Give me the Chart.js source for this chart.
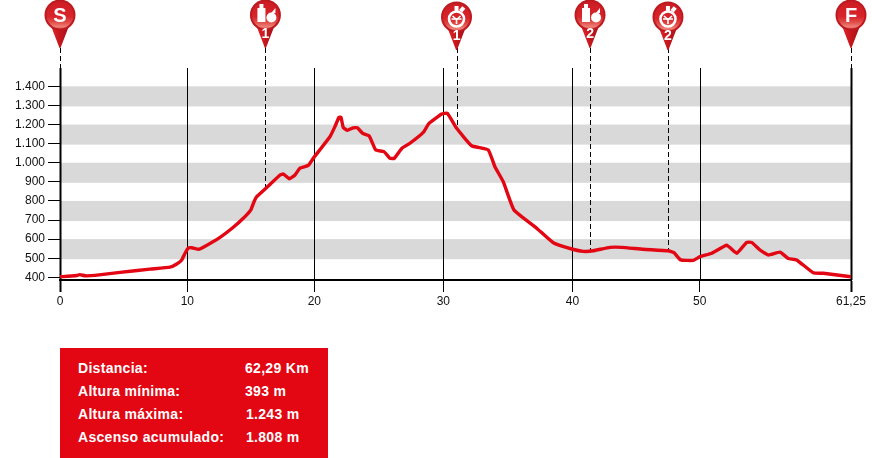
<!DOCTYPE html>
<html>
<head>
<meta charset="utf-8">
<title>Perfil</title>
<script src="https://cdn.jsdelivr.net/npm/chart.js@4/dist/chart.umd.min.js"></script>
<style>
html,body{margin:0;padding:0;background:#fff;width:872px;height:458px;overflow:hidden}
#wrap{position:absolute;left:0;top:0;width:872px;height:458px}
#stats{position:absolute;left:60px;top:348px;width:268px;height:110px;background:#e30613;color:#fff;font:bold 14px "Liberation Sans",Arial,sans-serif;letter-spacing:.3px}
#stats div{position:absolute;white-space:nowrap}
</style>
</head>
<body>
<div id="wrap"><canvas id="chartProfile" width="872" height="458"></canvas></div>
<div id="stats"></div>
<script>
// profile
const distKm=[0,1.17,1.56,1.95,2.73,4.69,7.03,8.59,9.12,9.51,9.77,10.02,10.29,10.86,11.2,12.5,13.54,14.32,14.9,15.16,15.37,16.15,17.19,17.45,17.91,18.36,18.75,19.4,19.84,21.09,21.48,21.8,21.95,22.13,22.45,22.91,23.23,23.65,24.16,24.66,25.31,25.78,26.12,26.7,27.34,28.38,28.83,29.82,30.26,30.99,32.16,33.46,33.98,34.63,35.47,37.24,38.54,40.05,40.88,41.66,42.97,43.88,45.57,47.52,47.97,48.49,49.48,50,50.91,52.09,52.87,53.65,54.04,54.69,55.34,56.25,56.9,57.55,58.85,59.63,61.8]
const altM=[403,408,414,408,410,426,443,453,470,491,526,553,555,547,557,609,662,709,752,796,822,870,936,941,916,936,972,986,1028,1136,1189,1238,1238,1185,1170,1183,1183,1154,1140,1067,1058,1023,1023,1075,1102,1159,1206,1255,1259,1180,1089,1067,979,901,752,657,581,547,536,539,557,557,547,539,529,491,489,508,526,568,526,583,583,543,517,532,499,491,424,421,403]

const xTickValues=[0,9.95,19.87,29.95,40.04,49.98,61.8]
const xTickLabels=['0','10','20','30','40','50','61,25']
const yTickValues=[400,500,600,700,800,900,1000,1100,1200,1300,1400]
const yTickLabels=['400','500','600','700','800','900','1.000','1.100','1.200','1.300','1.400']
const bandLow=[500,700,900,1100,1300]
const bandHigh=[600,800,1000,1200,1400]

const pinKm=[0,16.05,30.98,41.41,47.5,61.8]
const pinEndAlt=[null,865,1180,538,539,null]
const pinIcon=['S','food','clock','food','clock','F']
const pinNumber=['','1','1','2','2','']

const statNames=['Distancia:','Altura mínima:','Altura máxima:','Ascenso acumulado:']
const statValues=['62,29 Km','393 m','1.243 m','1.808 m']

const statsBox=document.getElementById('stats')
statNames.forEach((name,i)=>{
  const top=12+i*23
  statsBox.insertAdjacentHTML('beforeend',`<div style="left:18px;top:${top}px">${name}</div><div style="left:${i==0||i==1?185:186}px;top:${top}px">${statValues[i]}</div>`)
})

function drawFood(c,x,y){
  c.fillStyle='#fff'
  // bottle
  c.fillRect(x-8,y-6,8,14)
  c.fillRect(x-6,y-10,4,5)
  // apple
  c.beginPath();c.arc(x+6,y+3.5,5,0,Math.PI*2);c.fill()
  c.beginPath();c.moveTo(x+5,y);c.lineTo(x+10,y-6);c.lineTo(x+10,y-1);c.closePath();c.fill()
}
function drawClock(c,x,y){
  c.strokeStyle='#fff';c.fillStyle='#fff'
  c.fillRect(x-2,y-13,4,5)
  c.save();c.translate(x+6,y-10);c.rotate(.7);c.fillRect(-2,-2,4,5);c.restore()
  c.lineWidth=2.6
  c.beginPath();c.arc(x,y,7.5,0,Math.PI*2);c.stroke()
  c.lineWidth=1.6
  c.beginPath();c.moveTo(x-4,y-3);c.lineTo(x,y+.5);c.lineTo(x+4,y-3);c.stroke()
  c.beginPath();c.moveTo(x,y);c.lineTo(x,y+5);c.stroke()
  c.beginPath();c.moveTo(x-5,y);c.lineTo(x+5,y);c.stroke()
}
function drawPin(c,x,kind,num){
  const clock=kind=='clock'
  const cy=clock?17:15
  const tip=cy+33
  const r=15.5
  // tail
  const tail=c.createLinearGradient(x-8,0,x+8,0)
  tail.addColorStop(0,'#e0242a');tail.addColorStop(.5,'#c4161c');tail.addColorStop(1,'#a8121a')
  c.fillStyle=tail
  c.beginPath();c.moveTo(x-9,cy+11);c.lineTo(x+9,cy+11);c.lineTo(x+.5,tip);c.lineTo(x-.5,tip);c.closePath();c.fill()
  // head
  c.fillStyle='#bd1a20'
  c.beginPath();c.arc(x,cy,r,0,Math.PI*2);c.fill()
  const g=c.createLinearGradient(0,cy-r,0,cy+r)
  g.addColorStop(0,'#cb1c24');g.addColorStop(.55,'#d8242a');g.addColorStop(.72,'#e04a46');g.addColorStop(.88,'#ee8078');g.addColorStop(1,'#cc2a2c')
  c.fillStyle=g
  c.beginPath();c.arc(x,cy,r-2,0,Math.PI*2);c.fill()
  c.fillStyle='#fff'
  c.textAlign='center';c.textBaseline='middle'
  if(kind=='S'||kind=='F'){
    c.font='bold 20px "Liberation Sans",Arial,sans-serif'
    c.fillText(kind,x,cy+1)
  }else if(kind=='food'){
    drawFood(c,x,cy-1)
  }else{
    drawClock(c,x,cy+2)
  }
  if(num){
    c.fillStyle='#fff'
    c.font='bold 14px "Liberation Sans",Arial,sans-serif'
    c.fillText(num,x,cy+19)
  }
}

const bandsPlugin={
  id:'bands',
  beforeDatasetsDraw(chart){
    const c=chart.ctx,{x,y}=chart.scales
    c.save()
    c.fillStyle='#d9d9d9'
    bandLow.forEach((lo,i)=>{
      const top=y.getPixelForValue(bandHigh[i])
      const bot=y.getPixelForValue(lo)+1
      c.fillRect(x.left,top,x.right-x.left,bot-top)
    })
    c.restore()
  }
}
// grey bands have to stay under the grid, so repaint the verticals on top of them
const markersPlugin={
  id:'markers',
  beforeDatasetsDraw(chart){
    const c=chart.ctx,{x,y}=chart.scales
    c.save()
    c.strokeStyle='#000'
    xTickValues.forEach((v,i)=>{
      const px=Math.round(x.getPixelForValue(v))+.5
      c.lineWidth=(i==0||i==xTickValues.length-1)?2:1
      c.beginPath();c.moveTo(px,y.top);c.lineTo(px,y.bottom);c.stroke()
    })
    c.lineWidth=1
    c.setLineDash([5,3])
    pinKm.forEach((km,i)=>{
      const px=Math.round(x.getPixelForValue(km))+.5
      const end=pinEndAlt[i]==null?y.top:y.getPixelForValue(pinEndAlt[i])
      c.beginPath();c.moveTo(px,48);c.lineTo(px,end);c.stroke()
    })
    c.restore()
  },
  afterDraw(chart){
    const c=chart.ctx,{x}=chart.scales
    c.save()
    pinKm.forEach((km,i)=>{
      drawPin(c,x.getPixelForValue(km),pinIcon[i],pinNumber[i])
    })
    c.restore()
  }
}

const tickFont={family:'"Liberation Sans",Arial,sans-serif',size:12}

const chartProfile=new Chart(document.getElementById('chartProfile'),{
  type:'line',
  data:{
    datasets:[{
      data:distKm.map((d,i)=>({x:d,y:altM[i]})),
      borderColor:'#e30613',
      borderWidth:3.4,
      pointRadius:0,
      tension:0.12,
      fill:false
    }]
  },
  options:{
    animation:false,
    responsive:false,
    layout:{padding:{top:68,right:21,left:0,bottom:0}},
    plugins:{legend:{display:false},tooltip:{enabled:false},title:{display:false}},
    scales:{
      x:{
        type:'linear',
        min:0,max:61.8,
        afterFit(s){s.height=178},
        afterBuildTicks(s){s.ticks=xTickValues.map(v=>({value:v}))},
        grid:{display:true,drawOnChartArea:false,drawTicks:true,tickLength:12,tickColor:'#000',
          tickWidth:ctx=>(ctx.index==0||ctx.index==xTickValues.length-1)?2:1},
        border:{display:true,color:'#000',width:2},
        ticks:{autoSkip:false,maxRotation:0,color:'#111',font:tickFont,padding:2,
          callback:(v,i)=>xTickLabels[i]}
      },
      y:{
        type:'linear',
        min:386,max:1496,
        afterFit(s){s.width=60},
        afterBuildTicks(s){s.ticks=yTickValues.map(v=>({value:v}))},
        grid:{display:true,drawOnChartArea:false,drawTicks:true,tickLength:12,tickColor:'#000',tickWidth:1},
        border:{display:false},
        ticks:{autoSkip:false,color:'#111',font:tickFont,padding:3,
          callback:(v,i)=>yTickLabels[i]}
      }
    }
  },
  plugins:[bandsPlugin,markersPlugin]
})
</script>
</body>
</html>
